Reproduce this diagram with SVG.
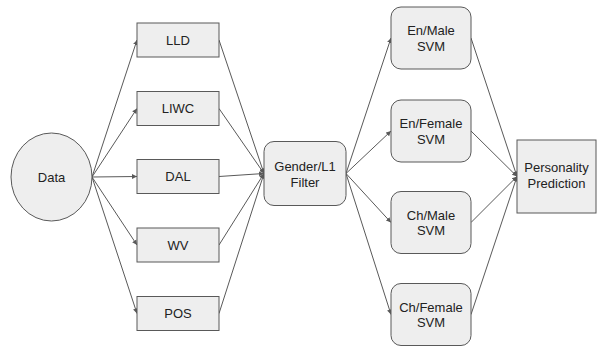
<svg xmlns="http://www.w3.org/2000/svg" width="600" height="347" viewBox="0 0 600 347">
<defs>
<marker id="ah" markerWidth="6" markerHeight="6" refX="5" refY="3" orient="auto" markerUnits="userSpaceOnUse">
<path d="M0,0.5 L5,3 L0,5.5 Z" fill="#595959"/>
</marker>
<style>
.n{fill:#eeeeee;stroke:#595959;stroke-width:1}
.t{font-family:"Liberation Sans",Arial,sans-serif;font-size:13px;fill:#222;text-anchor:middle}
.c line{stroke:#595959;stroke-width:1;marker-end:url(#ah)}
</style>
</defs>
<rect width="600" height="347" fill="#fff"/>
<g class="c" id="connectors">
<line x1="92" y1="177" x2="137" y2="40"/>
<line x1="92" y1="177" x2="137" y2="108.5"/>
<line x1="92" y1="177" x2="137" y2="176.5"/>
<line x1="92" y1="177" x2="137" y2="245"/>
<line x1="92" y1="177" x2="137" y2="313.5"/>
<line x1="219" y1="40" x2="264" y2="173.5"/>
<line x1="219" y1="108.5" x2="264" y2="173.5"/>
<line x1="219" y1="176.5" x2="264" y2="173.5"/>
<line x1="219" y1="245" x2="264" y2="173.5"/>
<line x1="219" y1="313.5" x2="264" y2="173.5"/>
<line x1="346" y1="173.5" x2="391" y2="38"/>
<line x1="346" y1="173.5" x2="391" y2="131"/>
<line x1="346" y1="173.5" x2="391" y2="222.5"/>
<line x1="346" y1="173.5" x2="391" y2="314.5"/>
<line x1="471" y1="38" x2="517" y2="176.5"/>
<line x1="471" y1="131" x2="517" y2="176.5"/>
<line x1="471" y1="222.5" x2="517" y2="176.5"/>
<line x1="471" y1="314.5" x2="517" y2="176.5"/>
</g>
<g id="data"><ellipse class="n" cx="51.5" cy="177" rx="40.5" ry="44"/><text class="t" x="51.5" y="181.5">Data</text></g>
<g id="lld"><rect class="n" x="137" y="23" width="82" height="34"/><text class="t" x="178" y="44.5">LLD</text></g>
<g id="liwc"><rect class="n" x="137" y="91.5" width="82" height="34"/><text class="t" x="178" y="113">LIWC</text></g>
<g id="dal"><rect class="n" x="137" y="159.5" width="82" height="34"/><text class="t" x="178" y="181">DAL</text></g>
<g id="wv"><rect class="n" x="137" y="228" width="82" height="34"/><text class="t" x="178" y="249.5">WV</text></g>
<g id="pos"><rect class="n" x="137" y="296.5" width="82" height="34"/><text class="t" x="178" y="318">POS</text></g>
<g id="filter"><rect class="n" x="264" y="141.5" width="82" height="64" rx="10"/><text class="t" x="305" y="171">Gender/L1</text><text class="t" x="305" y="186.5">Filter</text></g>
<g id="enmale"><rect class="n" x="391" y="7" width="80" height="62" rx="10"/><text class="t" x="431" y="35">En/Male</text><text class="t" x="431" y="50.5">SVM</text></g>
<g id="enfemale"><rect class="n" x="391" y="100" width="80" height="62" rx="10"/><text class="t" x="431" y="128">En/Female</text><text class="t" x="431" y="143.5">SVM</text></g>
<g id="chmale"><rect class="n" x="391" y="191.5" width="80" height="62" rx="10"/><text class="t" x="431" y="219.5">Ch/Male</text><text class="t" x="431" y="235">SVM</text></g>
<g id="chfemale"><rect class="n" x="391" y="283.5" width="80" height="62" rx="10"/><text class="t" x="431" y="311.5">Ch/Female</text><text class="t" x="431" y="327">SVM</text></g>
<g id="personality"><rect class="n" x="517" y="140" width="79" height="73"/><text class="t" x="556.5" y="172">Personality</text><text class="t" x="556.5" y="187.5">Prediction</text></g>
</svg>
